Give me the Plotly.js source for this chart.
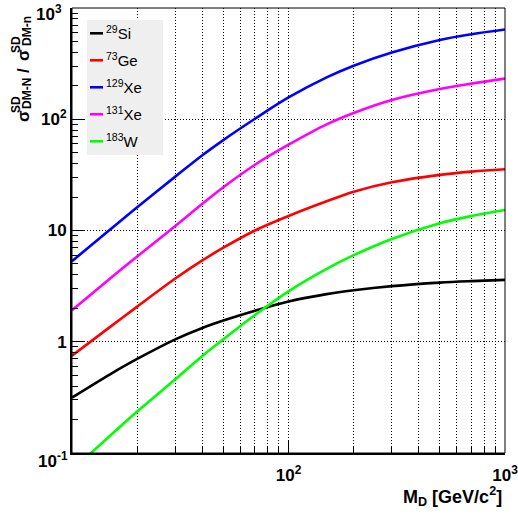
<!DOCTYPE html>
<html>
<head>
<meta charset="utf-8">
<script src="https://cdn.plot.ly/plotly-3.0.1.min.js"></script>
<style>
html,body{margin:0;padding:0;background:#fff;}
#chart{width:518px;height:520px;}
</style>
</head>
<body>
<div id="chart"></div>
<script>
// ---- data ----
const masses = [10, 15, 20, 30, 40, 50, 70, 100, 150, 200, 300, 500, 700, 1000];
const si29  = [0.315, 0.51, 0.70, 1.05, 1.33, 1.55, 1.90, 2.30, 2.68, 2.90, 3.16, 3.40, 3.51, 3.60];
const ge73  = [0.75, 1.36, 2.07, 3.7, 5.38, 7.0, 10.0, 13.5, 18.3, 22.3, 27.1, 31.6, 33.8, 35.5];
const xe129 = [5.3, 10.2, 16.2, 30.5, 47.5, 65, 101, 157, 238, 303, 398, 516, 581, 640];
const xe131 = [1.92, 3.7, 5.85, 11.0, 17.4, 24.5, 39, 59, 90, 114, 149, 187, 209, 232];
const w183  = [0.070, 0.143, 0.236, 0.46, 0.745, 1.05, 1.74, 2.84, 4.52, 6.0, 8.4, 11.6, 13.5, 15.3];

const seriesNames = ["<sup>29</sup>Si", "<sup>73</sup>Ge", "<sup>129</sup>Xe", "<sup>131</sup>Xe", "<sup>183</sup>W"];
const seriesValues = [si29, ge73, xe129, xe131, w183];

const xTickVals = [100, 1000];
const xTickText = ["10<sup>2</sup>", "10<sup>3</sup>"];
const yTickVals = [0.1, 1, 10, 100, 1000];
const yTickText = ["10<sup>-1</sup>", "1", "10", "10<sup>2</sup>", "10<sup>3</sup>"];

// ---- styles / layout ----
const colors = ["#000000", "#ff0000", "#0000ff", "#ff00ff", "#00ff00"];
const FONT = "Liberation Sans, Arial, Helvetica, sans-serif";
const W = 518, H = 520;
const M = {l: 72, r: 13, t: 8, b: 67};
const PW = W - M.l - M.r, PH = H - M.t - M.b;
const px = v => (v - M.l) / PW;
const py = v => (H - M.b - v) / PH;

function minorVals(lo, hi) {
  const out = [];
  for (let d = lo; d < hi; d++) {
    for (let k = 2; k <= 9; k++) out.push(k * Math.pow(10, d));
  }
  return out;
}

const traces = seriesValues.map((vals, i) => ({
  x: masses, y: vals, type: "scatter", mode: "lines",
  name: seriesNames[i],
  line: {color: colors[i], width: 2.6, shape: "spline", smoothing: 1.0},
  showlegend: false, hoverinfo: "x+y+name"
}));

const shapes = [
  {type: "rect", xref: "paper", yref: "paper", x0: 0, x1: 1, y0: 0, y1: 1,
   line: {color: "#000", width: 1}, layer: "above"},
  {type: "rect", xref: "paper", yref: "paper", x0: px(87), x1: px(163), y0: py(155), y1: py(20),
   fillcolor: "#efefef", line: {width: 0}, layer: "above"}
];
const annotations = [];
const rowY = [33.3, 60.3, 87.3, 114.3, 141.3];
seriesNames.forEach((n, i) => {
  shapes.push({type: "line", xref: "paper", yref: "paper", x0: px(90), x1: px(103),
    y0: py(rowY[i]), y1: py(rowY[i]), line: {color: colors[i], width: 2.6}, layer: "above"});
  annotations.push({xref: "paper", yref: "paper", x: px(104), y: py(rowY[i] - 1),
    xanchor: "left", yanchor: "middle", showarrow: false, text: n,
    font: {family: FONT, size: 15, color: "#000"}});
});

// y-axis title pieces (stacked super/subscripts)
const yt = [
  {t: "σ", x: 24, y: 116, s: 17},
  {t: "SD", x: 16, y: 104, s: 12},
  {t: "DM-N", x: 27, y: 94, s: 12},
  {t: "/", x: 24, y: 71, s: 17},
  {t: "σ", x: 24, y: 55, s: 17},
  {t: "SD", x: 16, y: 44, s: 12},
  {t: "DM-n", x: 27, y: 31, s: 12}
];
yt.forEach(p => annotations.push({xref: "paper", yref: "paper", x: px(p.x), y: py(p.y),
  xanchor: "center", yanchor: "middle", showarrow: false, textangle: -90, text: p.t,
  font: {family: FONT, size: p.s, color: "#000", weight: "bold"}}));

// end-of-axis y tick labels (placed like the reference, slightly inside the frame)
const tickFont = {family: FONT, size: 17, color: "#000", weight: "bold"};
annotations.push({xref: "paper", yref: "paper", x: px(64), y: py(13), xanchor: "right", yanchor: "middle",
  showarrow: false, text: yTickText[4], font: tickFont});
annotations.push({xref: "paper", yref: "paper", x: px(70), y: py(460), xanchor: "right", yanchor: "middle",
  showarrow: false, text: yTickText[0], font: tickFont});

// x-axis title
annotations.push({xref: "paper", yref: "paper", x: px(504), y: py(497), xanchor: "right", yanchor: "middle",
  showarrow: false, text: "M<sub>D</sub> [GeV/c<sup>2</sup>]",
  font: {family: FONT, size: 18, color: "#000", weight: "bold"}});

const gridDash = "1px,2px";
const layout = {
  width: W, height: H,
  margin: M,
  paper_bgcolor: "#fff", plot_bgcolor: "#fff",
  showlegend: false,
  font: {family: FONT, color: "#000"},
  xaxis: {
    type: "log", range: [1, 3],
    tickmode: "array", tickvals: xTickVals, ticktext: xTickText,
    ticks: "inside", ticklen: 12, tickwidth: 1, tickcolor: "#000",
    ticklabeloverflow: "allow", ticklabelstandoff: 6,
    showline: true, linewidth: 2, linecolor: "#000",
    showgrid: true, gridcolor: "#000", gridwidth: 1, griddash: gridDash,
    tickfont: tickFont,
    minor: {tickmode: "array", tickvals: minorVals(1, 3), ticks: "inside", ticklen: 6,
            tickwidth: 1, tickcolor: "#000", showgrid: true, gridcolor: "#000", gridwidth: 1, griddash: gridDash},
    zeroline: false, fixedrange: true
  },
  yaxis: {
    type: "log", range: [-1, 3],
    tickmode: "array", tickvals: yTickVals.slice(1, 4), ticktext: yTickText.slice(1, 4),
    ticks: "inside", ticklen: 12, tickwidth: 1, tickcolor: "#000",
    showline: true, linewidth: 2, linecolor: "#000",
    showgrid: true, gridcolor: "#000", gridwidth: 1, griddash: gridDash,
    tickfont: tickFont,
    minor: {tickmode: "array", tickvals: minorVals(-1, 3), ticks: "inside", ticklen: 6,
            tickwidth: 1, tickcolor: "#000", showgrid: false},
    zeroline: false, fixedrange: true
  },
  shapes: shapes,
  annotations: annotations
};

Plotly.newPlot("chart", traces, layout, {displayModeBar: false, staticPlot: true});
</script>
</body>
</html>
